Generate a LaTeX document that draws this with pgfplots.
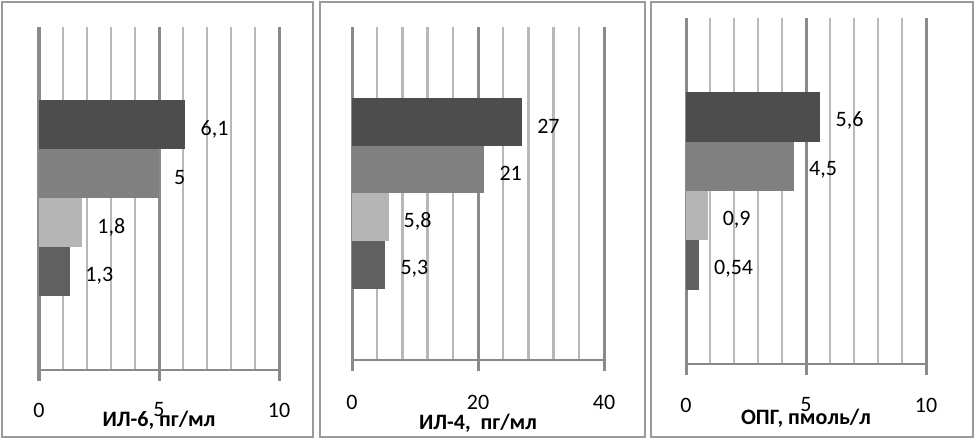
\documentclass[border=0pt]{standalone}
\usepackage{fontspec}
\setmainfont{Carlito}
\usepackage{pgfplots}
\pgfplotsset{compat=1.18}

\definecolor{barA}{HTML}{4D4D4D}
\definecolor{barB}{HTML}{808080}
\definecolor{barC}{HTML}{B5B5B5}
\definecolor{barD}{HTML}{606060}
\definecolor{majgray}{HTML}{8A8A8A}
\definecolor{mingray}{HTML}{B8B8B8}
\definecolor{framegray}{HTML}{9A9A9A}

\newcommand{\fs}{\fontsize{22bp}{26bp}\selectfont}

\pgfplotsset{
  panel/.style={
    anchor=south west, scale only axis,
    ymin=0, ymax=7, xbar, bar width=1,
    axis y line=none, axis x line*=bottom,
    x axis line style={draw=majgray, line width=2.5bp, -},
    xmajorgrids, xminorgrids,
    major grid style={draw=majgray, line width=3bp},
    minor grid style={draw=mingray, line width=2.5bp},
    tick align=outside, major tick length=11bp, minor tick length=0pt,
    major tick style={draw=majgray, line width=3bp},
    /pgf/number format/assume math mode=true,
    xticklabel style={font=\fs, anchor=center, inner sep=0pt},
    xlabel style={font=\fs\bfseries, anchor=center, inner sep=0pt},
    nodes near coords, point meta=explicit symbolic,
    every node near coord/.append style={font=\fs, anchor=west, inner sep=0pt, xshift=15bp, yshift=-4bp},
  },
}

\begin{document}
\begin{tikzpicture}
\path[use as bounding box] (0,0) rectangle (975bp,440bp);
\draw[framegray, line width=2bp] (2bp,3bp) rectangle (313bp,438bp);
\draw[framegray, line width=2bp] (320bp,3bp) rectangle (645bp,438bp);
\draw[framegray, line width=2bp] (651bp,3bp) rectangle (973bp,438bp);

% IL-6
\begin{axis}[panel, at={(39bp,70bp)}, width=240bp, height=343bp,
  xmin=0, xmax=10, xtick={0,5,10}, minor xtick={1,2,3,4,6,7,8,9},
  xticklabel style={yshift=-29bp},
  xlabel={ИЛ-6, пг/мл}, xlabel style={at={(axis description cs:0.5,0)}, yshift=-50bp}]
\addplot[fill=barA, draw=none, bar shift=0pt] coordinates {(6.1,5) [6,1]};
\addplot[fill=barB, draw=none, bar shift=0pt] coordinates {(5,4) [5]};
\addplot[fill=barC, draw=none, bar shift=0pt] coordinates {(1.8,3) [1,8]};
\addplot[fill=barD, draw=none, bar shift=0pt] coordinates {(1.3,2) [1,3]};
\end{axis}

% IL-4
\begin{axis}[panel, at={(352bp,80bp)}, width=252bp, height=333bp,
  xmin=0, xmax=40, xtick={0,20,40}, minor xtick={4,8,12,16,24,28,32,36},
  xticklabel style={yshift=-31bp},
  xlabel={ИЛ-4,\ \ пг/мл}, xlabel style={at={(axis description cs:0.5,0)}, yshift=-63bp}]
\addplot[fill=barA, draw=none, bar shift=0pt] coordinates {(27,5) [27]};
\addplot[fill=barB, draw=none, bar shift=0pt] coordinates {(21,4) [21]};
\addplot[fill=barC, draw=none, bar shift=0pt] coordinates {(5.8,3) [5,8]};
\addplot[fill=barD, draw=none, bar shift=0pt] coordinates {(5.3,2) [5,3]};
\end{axis}

% OPG
\begin{axis}[panel, at={(686bp,76bp)}, width=240bp, height=346bp,
  xmin=0, xmax=10, xtick={0,5,10}, minor xtick={1,2,3,4,6,7,8,9},
  xticklabel style={yshift=-30bp},
  xlabel={ОПГ, пмоль/л}, xlabel style={at={(axis description cs:0.5,0)}, yshift=-54bp}]
\addplot[fill=barA, draw=none, bar shift=0pt] coordinates {(5.6,5) [5,6]};
\addplot[fill=barB, draw=none, bar shift=0pt] coordinates {(4.5,4) [4,5]};
\addplot[fill=barC, draw=none, bar shift=0pt] coordinates {(0.9,3) [0,9]};
\addplot[fill=barD, draw=none, bar shift=0pt] coordinates {(0.54,2) [0,54]};
\end{axis}
\end{tikzpicture}
\end{document}
